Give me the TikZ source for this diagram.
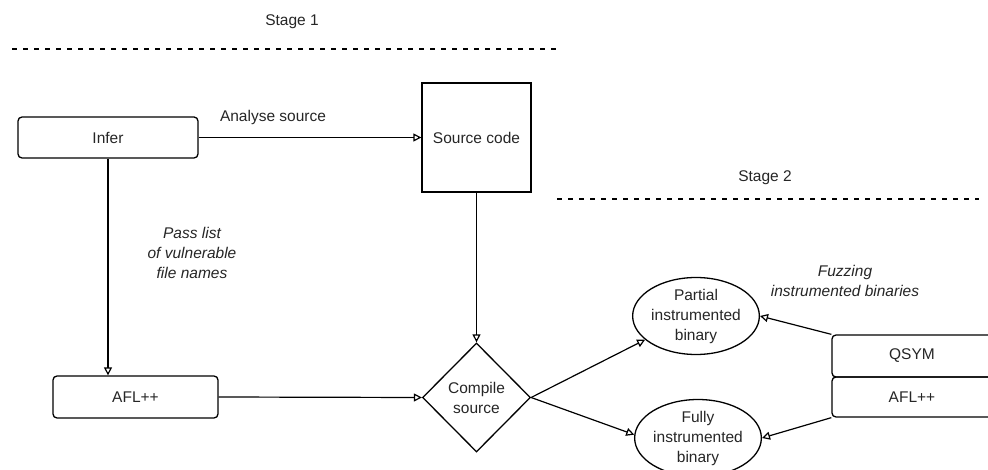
\documentclass[tikz,border=0pt]{standalone}
\usepackage{fontspec}
\setmainfont{Liberation Sans}
\usetikzlibrary{shapes.geometric,arrows.meta}
\begin{document}
\begin{tikzpicture}[x=1pt,y=-1pt,
  every node/.style={font=\fontsize{15.5}{20}\selectfont, text=black!85},
  rbox/.style={draw, line width=1.3pt, rounded corners=4pt, inner sep=0pt},
  sbox/.style={draw, line width=1.3pt, inner sep=0pt},
  ebox/.style={draw, ellipse, line width=1.3pt, inner sep=0pt, align=center},
  dbox/.style={draw, diamond, line width=1.3pt, inner sep=0pt, align=center},
  lbl/.style={align=center, inner sep=0pt},
  ilbl/.style={align=center, inner sep=0pt, font=\fontsize{15.5}{20}\selectfont\itshape},
  arr/.style={draw, line width=1.2pt, -{Triangle[open,length=8pt,width=8pt,line width=1.2pt]}},
  stageline/.style={draw, line width=2.4pt, dash pattern=on 4.5pt off 6.5pt}
]
\useasboundingbox (0,0) rectangle (988,470);
\clip (0,0) rectangle (988,470);
\fill[white] (0,0) rectangle (988,470);

% stage labels and dotted lines
\node[lbl] (stage1) at (292,22) {Stage 1};
\coordinate (s1a) at (12,49);
\coordinate (s1b) at (561,49);
\draw[stageline] (s1a) -- (s1b);
\node[lbl] (stage2) at (765,178) {Stage 2};
\coordinate (s2a) at (557,199);
\coordinate (s2b) at (979,199);
\draw[stageline] (s2a) -- (s2b);

% nodes
\node[rbox, minimum width=180pt, minimum height=41pt] (infer) at (108,137.5) {Infer};
\node[sbox, minimum width=109pt, minimum height=109pt] (src) at (476.5,137.5) {Source code};
\node[rbox, minimum width=165pt, minimum height=42pt] (afl1) at (135.5,397) {AFL++};
\node[dbox, minimum width=108pt, minimum height=109pt] (cmp) at (476.5,397.5) {Compile\\source};
\node[ebox, minimum width=115pt, minimum height=68pt] (partial) at (696,316) {Partial\\instrumented\\binary};
\node[ebox, minimum width=110pt, minimum height=72pt] (fully) at (698,438) {Fully\\instrumented\\binary};
\node[rbox, minimum width=160pt, minimum height=42pt] (qsym) at (912,356) {QSYM};
\node[rbox, minimum width=160pt, minimum height=40pt] (afl2) at (912,397) {AFL++};

% labels
\node[lbl] (analyse) at (273,117) {Analyse source};
\node[ilbl] (pass) at (192,253) {Pass list\\of vulnerable\\file names};
\node[ilbl] (fuzz) at (845,281) {Fuzzing\\instrumented binaries};

% connectors
\draw[arr] (infer.east) -- (src.west);
\draw[arr] (infer.south) -- (infer.south |- afl1.north);
\draw[arr] (src.south) -- (cmp.north);
\draw[arr] (afl1.east) -- (cmp.west);
\draw[arr] (cmp.east) -- (partial.205);
\draw[arr] (cmp.east) -- (fully.177);
\draw[arr] (qsym.north west) -- (partial.east);
\draw[arr] (afl2.south west) -- (fully.east);
\end{tikzpicture}
\end{document}
